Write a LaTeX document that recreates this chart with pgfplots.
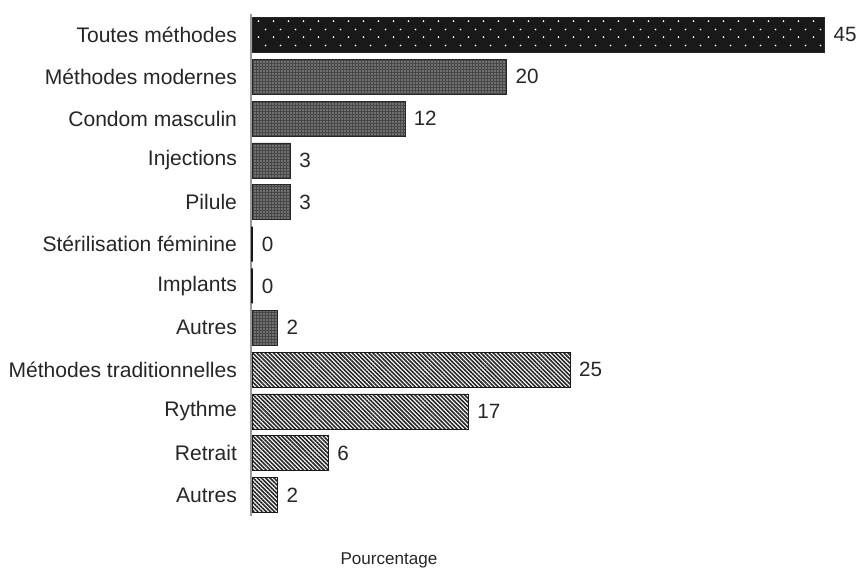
\documentclass[border=0pt]{standalone}
\usepackage{pgfplots}
\pgfplotsset{compat=1.18}
\usepackage{fontspec}
\setmainfont{Liberation Sans}
\usetikzlibrary{patterns,patterns.meta}

\pgfdeclarepattern{
  name=StagDots,
  type=uncolored,
  bottom left={\pgfpoint{0pt}{0pt}},
  top right={\pgfpoint{11.25pt}{12pt}},
  tile size={\pgfpoint{11.25pt}{12pt}},
  code={
    \pgfpathcircle{\pgfpoint{2.8pt}{3pt}}{0.75pt}
    \pgfpathcircle{\pgfpoint{8.425pt}{9pt}}{0.75pt}
    \pgfusepath{fill}
  }
}

\begin{document}
\begin{tikzpicture}
\begin{axis}[
  name=ax,
  scale only axis,
  width=450pt, height=376.5pt,
  xbar, bar width=26.25pt, bar shift=0pt,
  xmin=-0.1, xmax=47.07,
  ymin=-0.5, ymax=11.5,
  axis x line=none,
  axis y line*=left,
  y axis line style={draw=gray!80, line width=1.1pt},
  ytick={0,...,11},
  yticklabels={Autres,Retrait,Rythme,Méthodes traditionnelles,Autres,Implants,Stérilisation féminine,Pilule,Injections,Condom masculin,Méthodes modernes,Toutes méthodes},
  major tick length=0pt,
  yticklabel style={font=\fontsize{15.8}{18}\selectfont, text=black!85, xshift=-7pt},
  nodes near coords,
  nodes near coords style={font=\fontsize{15.5}{18}\selectfont, text=black!85, anchor=west, xshift=3pt},
  /pgf/number format/assume math mode=true,
  clip=false,
]
\addplot[draw=black!85, line width=0.6pt, preaction={fill=black!90}, pattern=StagDots, pattern color=white]
  coordinates {(45,11)};
\addplot[draw=black!85, line width=0.6pt, preaction={fill=black!72}, pattern={Dots[distance=2.25pt, radius=0.45pt]}, pattern color=white]
  coordinates {(20,10) (12,9) (3,8) (3,7) (2,4)};
\addplot[draw=black!90, line width=1.6pt]
  coordinates {(0,6) (0,5)};
\addplot[draw=black!90, line width=0.6pt, preaction={fill=white}, pattern={Lines[angle=-45, distance=2.2pt, line width=1.2pt]}, pattern color=black!85]
  coordinates {(25,3) (17,2) (6,1) (2,0)};
\end{axis}
\node[font=\fontsize{12.8}{15}\selectfont, text=black!85] at ([shift={(103.5pt,-33pt)}]ax.south west) {Pourcentage};
\pgfresetboundingbox
\path ([shift={(-188.25pt,-39.75pt)}]ax.south west) rectangle ([shift={(458.25pt,387pt)}]ax.south west);
\end{tikzpicture}
\end{document}
